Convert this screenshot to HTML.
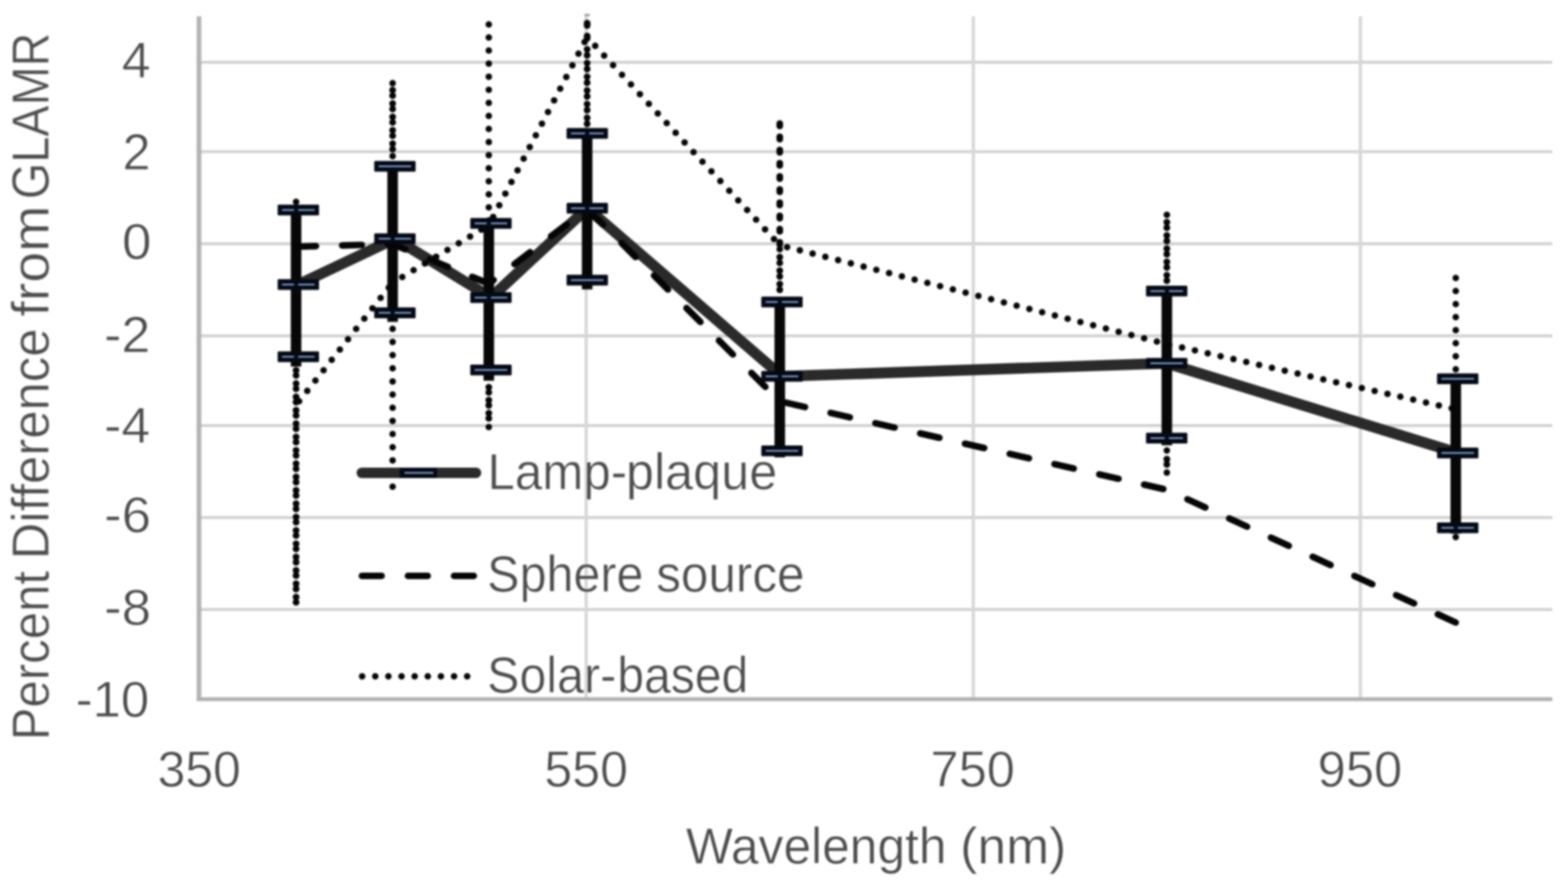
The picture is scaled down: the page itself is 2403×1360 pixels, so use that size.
<!DOCTYPE html>
<html lang="en"><head><meta charset="utf-8"><title>Percent Difference from GLAMR</title>
<style>html,body{margin:0;padding:0;background:#fff;}body{width:2403px;height:1360px;}svg{display:block;}text{font-family:"Liberation Sans",sans-serif;fill:#4c4c4c;vector-effect:non-scaling-stroke;}</style></head><body>
<svg width="2403" height="1360" viewBox="0 0 2403 1360">
<rect x="0" y="0" width="2403" height="1360" fill="#ffffff"/>
<defs><filter id="soft" filterUnits="userSpaceOnUse" x="0" y="0" width="2403" height="1360" color-interpolation-filters="sRGB"><feGaussianBlur stdDeviation="1.35"/></filter></defs>
<g id="chart" filter="url(#soft)">
<g id="grid" fill="none">
<line x1="305.0" y1="95.5" x2="2379.0" y2="95.5" stroke="#d1d1d1" stroke-width="4.4"/>
<line x1="305.0" y1="232.6" x2="2379.0" y2="232.6" stroke="#d1d1d1" stroke-width="4.4"/>
<line x1="305.0" y1="373.8" x2="2379.0" y2="373.8" stroke="#d1d1d1" stroke-width="4.4"/>
<line x1="305.0" y1="515.0" x2="2379.0" y2="515.0" stroke="#d1d1d1" stroke-width="4.4"/>
<line x1="305.0" y1="652.5" x2="2379.0" y2="652.5" stroke="#d1d1d1" stroke-width="4.4"/>
<line x1="305.0" y1="793.5" x2="2379.0" y2="793.5" stroke="#d1d1d1" stroke-width="4.4"/>
<line x1="305.0" y1="934.5" x2="2379.0" y2="934.5" stroke="#d1d1d1" stroke-width="4.4"/>
<line x1="898.3" y1="25.0" x2="898.3" y2="1072.0" stroke="#d7d7d7" stroke-width="5"/>
<line x1="1491.6" y1="25.0" x2="1491.6" y2="1072.0" stroke="#d7d7d7" stroke-width="5"/>
<line x1="2084.8" y1="25.0" x2="2084.8" y2="1072.0" stroke="#d7d7d7" stroke-width="5"/>
</g>
<g id="axes" stroke="#b2b2b2" fill="none">
<line x1="305.0" y1="25.0" x2="305.0" y2="1075.0" stroke-width="7"/>
<line x1="301.5" y1="1072.0" x2="2379.0" y2="1072.0" stroke-width="6.2"/>
</g>
<polyline id="lamp" points="457.2,436.3 605.2,366.0 752.4,456.3 900.0,319.3 1198.4,577.0 1788.0,557.0 2234.0,694.5" fill="none" stroke="#2a2a2a" stroke-width="16.6" stroke-linejoin="round" stroke-linecap="round"/>
<g id="lamp-err" stroke="#070707" stroke-width="16.2" fill="none">
<line x1="453.75" y1="322.0" x2="453.75" y2="562.0"/>
<line x1="601.7" y1="255.0" x2="601.7" y2="493.6"/>
<line x1="749.1" y1="342.5" x2="749.1" y2="583.7"/>
<line x1="899.8" y1="204.5" x2="899.8" y2="443.7"/>
<line x1="1195.0" y1="463.0" x2="1195.0" y2="701.2"/>
<line x1="1788.2" y1="446.3" x2="1788.2" y2="682.8"/>
<line x1="2231.0" y1="580.8" x2="2231.0" y2="818.3"/>
</g>
<g id="sphere" fill="none" stroke="#050505" stroke-width="10.1" stroke-linecap="round">
<line x1="453.8" y1="378.2" x2="601.7" y2="374.3" stroke-dasharray="30.2 40.20" stroke-dashoffset="70.23"/>
<line x1="601.7" y1="374.3" x2="749.1" y2="435.0" stroke-dasharray="30.2 40.20" stroke-dashoffset="9.00"/>
<line x1="749.1" y1="435.0" x2="899.8" y2="320.0" stroke-dasharray="30.2 40.20" stroke-dashoffset="20.94"/>
<line x1="899.8" y1="320.0" x2="1195.0" y2="615.3" stroke-dasharray="30.2 40.20" stroke-dashoffset="66.20"/>
<line x1="1195.0" y1="615.3" x2="1788.2" y2="751.0" stroke-dasharray="30.2 40.20" stroke-dashoffset="60.85"/>
<line x1="1788.2" y1="751.0" x2="2231.0" y2="954.5" stroke-dasharray="30.2 40.20" stroke-dashoffset="35.65"/>
</g>
<g id="solar">
<line x1="453.8" y1="621.0" x2="601.7" y2="433.5" stroke="#050505" stroke-width="10" stroke-linecap="round" fill="none" stroke-dasharray="0 20.17" stroke-dashoffset="12.76"/>
<line x1="601.7" y1="433.5" x2="749.1" y2="345.5" stroke="#050505" stroke-width="10" stroke-linecap="round" fill="none" stroke-dasharray="0 20.17" stroke-dashoffset="2.94"/>
<line x1="749.1" y1="345.5" x2="899.8" y2="57.0" stroke="#050505" stroke-width="10" stroke-linecap="round" fill="none" stroke-dasharray="0 20.17" stroke-dashoffset="5.68"/>
<line x1="899.8" y1="57.0" x2="1195.0" y2="376.0" stroke="#050505" stroke-width="10" stroke-linecap="round" fill="none" stroke-dasharray="0 20.17" stroke-dashoffset="1.96"/>
<line x1="1195.0" y1="376.0" x2="1788.2" y2="527.6" stroke="#050505" stroke-width="10" stroke-linecap="round" fill="none" stroke-dasharray="0 20.17" stroke-dashoffset="8.55"/>
<line x1="1788.2" y1="527.6" x2="2231.0" y2="627.5" stroke="#050505" stroke-width="10" stroke-linecap="round" fill="none" stroke-dasharray="0 20.17" stroke-dashoffset="16.41"/>
</g>
<g id="solar-err">
<rect x="895.8" y="21.5" width="8" height="3" fill="#8a8a8a"/>
<line x1="453.75" y1="309.50" x2="453.75" y2="309.51" stroke="#050505" stroke-width="10" stroke-linecap="round" fill="none" stroke-dasharray="0 20.0"/>
<line x1="453.75" y1="567.60" x2="453.75" y2="915.43" stroke="#050505" stroke-width="10.4" stroke-linecap="round" fill="none" stroke-dasharray="0 20.46"/>
<line x1="453.75" y1="575.60" x2="453.75" y2="923.43" stroke="#050505" stroke-width="10.4" stroke-linecap="round" fill="none" stroke-dasharray="0 20.46"/>
<line x1="601.70" y1="127.60" x2="601.70" y2="127.61" stroke="#050505" stroke-width="10" stroke-linecap="round" fill="none" stroke-dasharray="0 20.0"/>
<line x1="601.70" y1="138.15" x2="601.70" y2="220.16" stroke="#050505" stroke-width="10.4" stroke-linecap="round" fill="none" stroke-dasharray="0 20.5"/>
<line x1="601.70" y1="146.65" x2="601.70" y2="228.66" stroke="#050505" stroke-width="10.4" stroke-linecap="round" fill="none" stroke-dasharray="0 20.5"/>
<line x1="601.70" y1="239.40" x2="601.70" y2="239.41" stroke="#050505" stroke-width="10" stroke-linecap="round" fill="none" stroke-dasharray="0 20.0"/>
<line x1="601.70" y1="504.20" x2="601.70" y2="746.25" stroke="#050505" stroke-width="10" stroke-linecap="round" fill="none" stroke-dasharray="0 20.17"/>
<line x1="749.10" y1="37.50" x2="749.10" y2="338.11" stroke="#050505" stroke-width="10" stroke-linecap="round" fill="none" stroke-dasharray="0 20.04"/>
<line x1="749.10" y1="593.60" x2="749.10" y2="633.41" stroke="#050505" stroke-width="10.4" stroke-linecap="round" fill="none" stroke-dasharray="0 19.9"/>
<line x1="749.10" y1="601.60" x2="749.10" y2="641.41" stroke="#050505" stroke-width="10.4" stroke-linecap="round" fill="none" stroke-dasharray="0 19.9"/>
<line x1="749.10" y1="654.70" x2="749.10" y2="654.71" stroke="#050505" stroke-width="10" stroke-linecap="round" fill="none" stroke-dasharray="0 20.0"/>
<line x1="899.80" y1="35.45" x2="899.80" y2="55.26" stroke="#050505" stroke-width="10.4" stroke-linecap="round" fill="none" stroke-dasharray="0 19.8"/>
<line x1="899.80" y1="38.95" x2="899.80" y2="58.76" stroke="#050505" stroke-width="10.4" stroke-linecap="round" fill="none" stroke-dasharray="0 19.8"/>
<line x1="899.80" y1="75.60" x2="899.80" y2="180.61" stroke="#050505" stroke-width="10.4" stroke-linecap="round" fill="none" stroke-dasharray="0 21.0"/>
<line x1="899.80" y1="84.80" x2="899.80" y2="189.81" stroke="#050505" stroke-width="10.4" stroke-linecap="round" fill="none" stroke-dasharray="0 21.0"/>
<line x1="1195.00" y1="189.55" x2="1195.00" y2="371.36" stroke="#050505" stroke-width="10.4" stroke-linecap="round" fill="none" stroke-dasharray="0 20.2"/>
<line x1="1195.00" y1="193.05" x2="1195.00" y2="374.86" stroke="#050505" stroke-width="10.4" stroke-linecap="round" fill="none" stroke-dasharray="0 20.2"/>
<line x1="1195.00" y1="382.30" x2="1195.00" y2="382.31" stroke="#050505" stroke-width="10" stroke-linecap="round" fill="none" stroke-dasharray="0 20.0"/>
<line x1="1195.00" y1="394.30" x2="1195.00" y2="435.51" stroke="#050505" stroke-width="10.4" stroke-linecap="round" fill="none" stroke-dasharray="0 20.6"/>
<line x1="1195.00" y1="403.10" x2="1195.00" y2="444.31" stroke="#050505" stroke-width="10.4" stroke-linecap="round" fill="none" stroke-dasharray="0 20.6"/>
<line x1="1788.20" y1="329.40" x2="1788.20" y2="329.41" stroke="#050505" stroke-width="10" stroke-linecap="round" fill="none" stroke-dasharray="0 20.0"/>
<line x1="1788.20" y1="340.65" x2="1788.20" y2="421.86" stroke="#050505" stroke-width="10.4" stroke-linecap="round" fill="none" stroke-dasharray="0 20.3"/>
<line x1="1788.20" y1="349.15" x2="1788.20" y2="430.36" stroke="#050505" stroke-width="10.4" stroke-linecap="round" fill="none" stroke-dasharray="0 20.3"/>
<line x1="1788.20" y1="690.70" x2="1788.20" y2="690.71" stroke="#050505" stroke-width="10" stroke-linecap="round" fill="none" stroke-dasharray="0 20.0"/>
<line x1="1788.20" y1="704.00" x2="1788.20" y2="704.01" stroke="#050505" stroke-width="10.4" stroke-linecap="round" fill="none" stroke-dasharray="0 20.0"/>
<line x1="1788.20" y1="712.00" x2="1788.20" y2="712.01" stroke="#050505" stroke-width="10.4" stroke-linecap="round" fill="none" stroke-dasharray="0 20.0"/>
<line x1="1788.20" y1="724.60" x2="1788.20" y2="724.61" stroke="#050505" stroke-width="10" stroke-linecap="round" fill="none" stroke-dasharray="0 20.0"/>
<line x1="2231.00" y1="426.30" x2="2231.00" y2="566.31" stroke="#050505" stroke-width="10" stroke-linecap="round" fill="none" stroke-dasharray="0 20.0"/>
<line x1="2231.00" y1="823.50" x2="2231.00" y2="823.51" stroke="#050505" stroke-width="10" stroke-linecap="round" fill="none" stroke-dasharray="0 20.0"/>
</g>
<g id="markers">
<rect x="425.50" y="313.70" width="63.4" height="16.6" rx="1.5" fill="#040a14"/>
<rect x="432.20" y="320.80" width="50" height="2.4" fill="#8ba6d8"/>
<rect x="425.50" y="428.00" width="63.4" height="16.6" rx="1.5" fill="#040a14"/>
<rect x="432.20" y="435.10" width="50" height="2.4" fill="#8ba6d8"/>
<rect x="425.50" y="538.70" width="63.4" height="16.6" rx="1.5" fill="#040a14"/>
<rect x="432.20" y="545.80" width="50" height="2.4" fill="#8ba6d8"/>
<rect x="573.50" y="246.70" width="63.4" height="16.6" rx="1.5" fill="#040a14"/>
<rect x="580.20" y="253.80" width="50" height="2.4" fill="#8ba6d8"/>
<rect x="573.50" y="357.70" width="63.4" height="16.6" rx="1.5" fill="#040a14"/>
<rect x="580.20" y="364.80" width="50" height="2.4" fill="#8ba6d8"/>
<rect x="573.50" y="471.30" width="63.4" height="16.6" rx="1.5" fill="#040a14"/>
<rect x="580.20" y="478.40" width="50" height="2.4" fill="#8ba6d8"/>
<rect x="720.70" y="334.20" width="63.4" height="16.6" rx="1.5" fill="#040a14"/>
<rect x="727.40" y="341.30" width="50" height="2.4" fill="#8ba6d8"/>
<rect x="720.70" y="448.00" width="63.4" height="16.6" rx="1.5" fill="#040a14"/>
<rect x="727.40" y="455.10" width="50" height="2.4" fill="#8ba6d8"/>
<rect x="720.70" y="558.90" width="63.4" height="16.6" rx="1.5" fill="#040a14"/>
<rect x="727.40" y="566.00" width="50" height="2.4" fill="#8ba6d8"/>
<rect x="868.30" y="196.20" width="63.4" height="16.6" rx="1.5" fill="#040a14"/>
<rect x="875.00" y="203.30" width="50" height="2.4" fill="#8ba6d8"/>
<rect x="868.30" y="311.00" width="63.4" height="16.6" rx="1.5" fill="#040a14"/>
<rect x="875.00" y="318.10" width="50" height="2.4" fill="#8ba6d8"/>
<rect x="868.30" y="421.20" width="63.4" height="16.6" rx="1.5" fill="#040a14"/>
<rect x="875.00" y="428.30" width="50" height="2.4" fill="#8ba6d8"/>
<rect x="1166.70" y="454.70" width="63.4" height="16.6" rx="1.5" fill="#040a14"/>
<rect x="1173.40" y="461.80" width="50" height="2.4" fill="#8ba6d8"/>
<rect x="1166.70" y="568.70" width="63.4" height="16.6" rx="1.5" fill="#040a14"/>
<rect x="1173.40" y="575.80" width="50" height="2.4" fill="#8ba6d8"/>
<rect x="1166.70" y="682.90" width="63.4" height="16.6" rx="1.5" fill="#040a14"/>
<rect x="1173.40" y="690.00" width="50" height="2.4" fill="#8ba6d8"/>
<rect x="1756.30" y="438.00" width="63.4" height="16.6" rx="1.5" fill="#040a14"/>
<rect x="1763.00" y="445.10" width="50" height="2.4" fill="#8ba6d8"/>
<rect x="1756.30" y="548.70" width="63.4" height="16.6" rx="1.5" fill="#040a14"/>
<rect x="1763.00" y="555.80" width="50" height="2.4" fill="#8ba6d8"/>
<rect x="1756.30" y="663.50" width="63.4" height="16.6" rx="1.5" fill="#040a14"/>
<rect x="1763.00" y="670.60" width="50" height="2.4" fill="#8ba6d8"/>
<rect x="2202.30" y="572.50" width="63.4" height="16.6" rx="1.5" fill="#040a14"/>
<rect x="2209.00" y="579.60" width="50" height="2.4" fill="#8ba6d8"/>
<rect x="2202.30" y="686.20" width="63.4" height="16.6" rx="1.5" fill="#040a14"/>
<rect x="2209.00" y="693.30" width="50" height="2.4" fill="#8ba6d8"/>
<rect x="2202.30" y="801.00" width="63.4" height="16.6" rx="1.5" fill="#040a14"/>
<rect x="2209.00" y="808.10" width="50" height="2.4" fill="#8ba6d8"/>
</g>
<g id="marker-gaps" fill="#040a14">
<rect x="450.55" y="319.00" width="6.4" height="6"/>
<rect x="450.55" y="433.30" width="6.4" height="6"/>
<rect x="450.55" y="544.00" width="6.4" height="6"/>
<rect x="598.50" y="363.00" width="6.4" height="6"/>
<rect x="598.50" y="476.60" width="6.4" height="6"/>
<rect x="745.90" y="339.50" width="6.4" height="6"/>
<rect x="745.90" y="453.30" width="6.4" height="6"/>
<rect x="896.60" y="201.50" width="6.4" height="6"/>
<rect x="896.60" y="316.30" width="6.4" height="6"/>
<rect x="1191.80" y="460.00" width="6.4" height="6"/>
<rect x="1191.80" y="574.00" width="6.4" height="6"/>
<rect x="1785.00" y="443.30" width="6.4" height="6"/>
<rect x="1785.00" y="668.80" width="6.4" height="6"/>
<rect x="2227.80" y="806.30" width="6.4" height="6"/>
</g>
<g id="legend">
<line x1="554.5" y1="725" x2="729.5" y2="725" stroke="#2a2a2a" stroke-width="16" stroke-linecap="round"/>
<rect x="612.5" y="717" width="57.5" height="16" fill="#040a14"/>
<rect x="620" y="723.8" width="44" height="2.4" fill="#8ba6d8"/>
<line x1="554.6" y1="883" x2="730" y2="883" stroke="#050505" stroke-width="10.1" stroke-dasharray="30.26 40.34" stroke-linecap="round"/>
<line x1="555" y1="1037" x2="720" y2="1037" stroke="#050505" stroke-width="10" stroke-linecap="round" fill="none" stroke-dasharray="0 20.12"/>
</g>
<g id="labels" stroke="#ffffff" stroke-width="0.90" stroke-linejoin="round">
<text transform="translate(186.56,119.25) scale(0.7980,0.7778)" font-size="100">4</text>
<text transform="translate(187.68,260.45) scale(0.7736,0.7778)" font-size="100">2</text>
<text transform="translate(187.11,396.85) scale(0.8105,0.7778)" font-size="100">0</text>
<text transform="translate(159.57,539.95) scale(0.7962,0.7778)" font-size="100">-2</text>
<text transform="translate(159.57,679.45) scale(0.7951,0.7778)" font-size="100">-4</text>
<text transform="translate(159.50,816.05) scale(0.8100,0.7778)" font-size="100">-6</text>
<text transform="translate(159.50,957.65) scale(0.8100,0.7778)" font-size="100">-8</text>
<text transform="translate(115.95,1098.65) scale(0.7787,0.7778)" font-size="100">-10</text>
<text transform="translate(241.49,1206.25) scale(0.7654,0.7778)" font-size="100">350</text>
<text transform="translate(834.28,1206.25) scale(0.7679,0.7778)" font-size="100">550</text>
<text transform="translate(1426.07,1206.25) scale(0.7753,0.7778)" font-size="100">750</text>
<text transform="translate(2019.25,1206.25) scale(0.7779,0.7778)" font-size="100">950</text>
<text transform="translate(0,1323.65) scale(0.77,0.7760)" font-size="100" y="0"><tspan x="1365.15" textLength="518.75" lengthAdjust="spacingAndGlyphs">Wavelength</tspan> <tspan x="1911.17" textLength="211.19" lengthAdjust="spacingAndGlyphs">(nm)</tspan></text>
<text transform="translate(74.05,1200.0) rotate(-90) scale(0.77,0.7900)" font-size="100" y="0"><tspan x="84.05" textLength="337.55" lengthAdjust="spacingAndGlyphs">Percent</tspan> <tspan x="444.56" textLength="459.90" lengthAdjust="spacingAndGlyphs">Difference</tspan> <tspan x="927.89" textLength="221.05" lengthAdjust="spacingAndGlyphs">from</tspan> <tspan x="1161.90" textLength="331.57" lengthAdjust="spacingAndGlyphs">GLAMR</tspan></text>
<text transform="translate(0,750.45) scale(0.77,0.7820)" font-size="100" y="0"><tspan x="970.14" textLength="278.20" lengthAdjust="spacingAndGlyphs">Lamp-</tspan><tspan x="1245.75" textLength="301.22" lengthAdjust="spacingAndGlyphs">plaque</tspan></text>
<text transform="translate(0,907.25) scale(0.77,0.7760)" font-size="100" y="0"><tspan x="969.62" textLength="311.12" lengthAdjust="spacingAndGlyphs">Sphere</tspan> <tspan x="1306.08" textLength="295.19" lengthAdjust="spacingAndGlyphs">source</tspan></text>
<text transform="translate(0,1061.85) scale(0.77,0.7760)" font-size="100" y="0"><tspan x="969.63" textLength="256.87" lengthAdjust="spacingAndGlyphs">Solar-</tspan><tspan x="1228.52" textLength="260.86" lengthAdjust="spacingAndGlyphs">based</tspan></text>
</g>
</g>
</svg></body></html>
